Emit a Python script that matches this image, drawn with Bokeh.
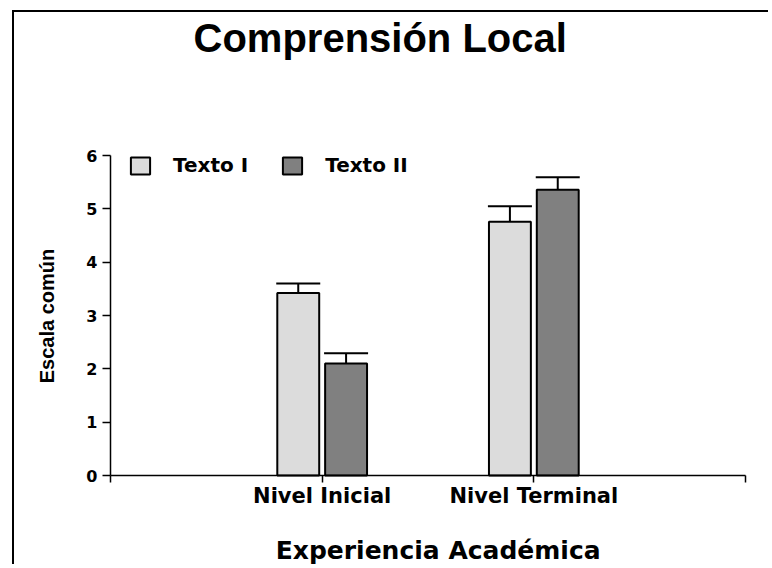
import math
from bokeh.plotting import figure
from bokeh.models import Range1d, FixedTicker, Whisker, TeeHead, ColumnDataSource, Label
from bokeh.embed import file_html
from bokeh.resources import INLINE

# ---- data ----
categories = ["Nivel Inicial", "Nivel Terminal"]
positions = [1, 2]
texto1 = [3.42, 4.76]
texto2 = [2.10, 5.36]
err1 = [0.18, 0.29]
err2 = [0.19, 0.23]
series_names = ["Texto I", "Texto II"]
y_ticks = [0, 1, 2, 3, 4, 5, 6]
x_ticks = [0, 1, 2, 3]
title_text = "Comprensión Local"
x_title = "Experiencia  Académica"
y_title = "Escala común"

# ---- style / layout (pixels) ----
dodge = 0.113
bar_w = 0.198
col1 = "#DCDCDC"
col2 = "#808080"
W, H = 756, 554
ox, oy = 14, 12            # page position of the canvas
axis_x, axis_y = 110, 475  # page position of the axes origin
px_x = 635 / 3             # px per x unit
px_y = 320 / 6             # px per y unit

def dx(px):  # page px -> data x
    return (px - axis_x) / px_x

def dy(py):  # page py -> data y
    return (axis_y - py) / px_y

p = figure(width=W, height=H,
           x_range=Range1d(dx(ox), dx(ox + W)), y_range=Range1d(dy(oy + H), dy(oy)),
           output_backend="svg", toolbar_location=None,
           min_border=0, min_border_left=0, min_border_right=0,
           min_border_top=0, min_border_bottom=0,
           styles={"margin-left": "12px", "margin-top": "10px",
                   "border-left": "2px solid black", "border-top": "2px solid black"})
p.outline_line_color = None
p.grid.visible = False
p.background_fill_color = "white"
p.border_fill_color = "white"
p.title.text = ""

src1 = ColumnDataSource(dict(x=[c - dodge for c in positions], top=texto1,
                             upper=[t + e for t, e in zip(texto1, err1)]))
src2 = ColumnDataSource(dict(x=[c + dodge for c in positions], top=texto2,
                             upper=[t + e for t, e in zip(texto2, err2)]))

for src in (src1, src2):
    w = Whisker(source=src, base="x", lower="top", upper="upper", dimension="height",
                line_color="black", line_width=2,
                upper_head=TeeHead(size=44, line_width=2, line_color="black"),
                lower_head=None)
    p.add_layout(w)

p.vbar(x="x", top="top", bottom=0, width=bar_w, source=src1, fill_color=col1,
       line_color="black", line_width=2, legend_label=series_names[0])
p.vbar(x="x", top="top", bottom=0, width=bar_w, source=src2, fill_color=col2,
       line_color="black", line_width=2, legend_label=series_names[1])

# axes, fixed at the data origin
p.yaxis.ticker = FixedTicker(ticks=y_ticks)
p.yaxis.bounds = (y_ticks[0], y_ticks[-1])
p.yaxis.fixed_location = 0
p.xaxis.ticker = FixedTicker(ticks=x_ticks)
p.xaxis.bounds = (x_ticks[0], x_ticks[-1])
p.xaxis.fixed_location = 0
labels = {0: "", 3: ""}
for pos, cat in zip(positions, categories):
    labels[pos] = cat
p.xaxis.major_label_overrides = labels
for ax in (p.xaxis[0], p.yaxis[0]):
    ax.axis_line_width = 1.5
    ax.axis_line_color = "black"
    ax.major_tick_line_width = 1.5
    ax.major_tick_line_color = "black"
    ax.major_tick_in = 0
    ax.minor_tick_line_color = None
    ax.major_label_text_font = "DejaVu Sans"
    ax.major_label_text_font_style = "bold"
    ax.major_label_text_color = "black"
p.yaxis.major_tick_out = 8
p.yaxis.major_label_standoff = 5
p.yaxis.major_label_text_font_size = "16px"
p.xaxis.major_tick_out = 7
p.xaxis.major_label_standoff = 1
p.xaxis.major_label_text_font_size = "21px"

# title and axis titles as text labels
p.add_layout(Label(x=dx(193), y=dy(37.8), text=title_text, text_align="left",
                   text_baseline="middle", text_font="Liberation Sans",
                   text_font_style="bold", text_font_size="40px", text_color="black"))
p.add_layout(Label(x=dx(442), y=dy(550.4), text=x_title, text_align="center",
                   text_baseline="middle", text_font="DejaVu Sans",
                   text_font_style="bold", text_font_size="25px", text_color="black"))
p.add_layout(Label(x=dx(46), y=dy(315.5), text=y_title, text_align="center",
                   text_baseline="middle", angle=math.pi / 2, text_font="Liberation Sans",
                   text_font_style="bold", text_font_size="20px", text_color="black"))

# legend
lg = p.legend[0]
lg.orientation = "horizontal"
lg.location = (18 + axis_x - ox, 298 + (oy + H - axis_y))
lg.border_line_color = None
lg.background_fill_alpha = 0
lg.padding = 0
lg.margin = 0
lg.spacing = 32
lg.glyph_width = 24
lg.glyph_height = 21
lg.label_standoff = 21
lg.label_text_font = "DejaVu Sans"
lg.label_text_font_style = "bold"
lg.label_text_font_size = "20px"
lg.label_text_color = "black"

open("out.html", "w").write(file_html(p, INLINE))
